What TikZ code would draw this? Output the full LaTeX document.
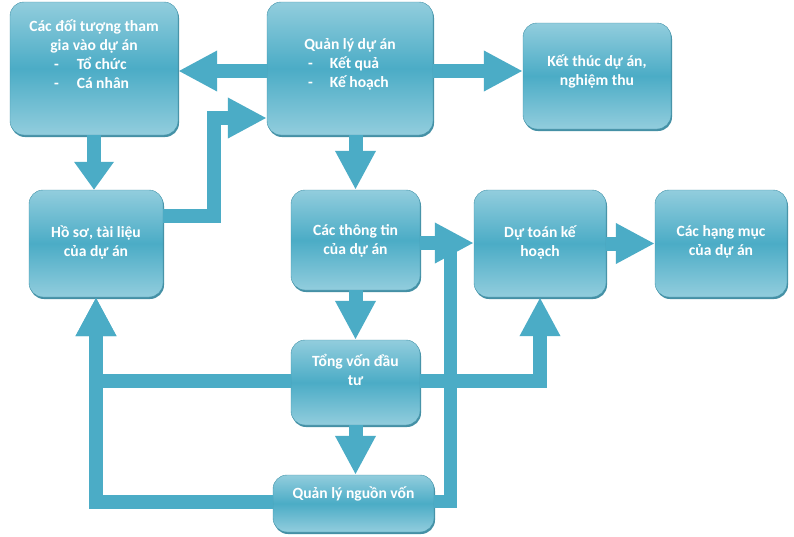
\documentclass[tikz,border=0pt]{standalone}
\usepackage{fontspec}
\setmainfont{Carlito}
\usetikzlibrary{arrows.meta, shadows}
\definecolor{aqua}{RGB}{75, 172, 198}
\definecolor{aqualight}{RGB}{146, 205, 221}
\definecolor{aquadark}{RGB}{49, 133, 156}

\tikzset{
  box/.style={rounded corners=14pt, top color=aqualight, bottom color=aqualight, middle color=aqua,
    draw=aqua!85!black, line width=0.4pt, text=white, align=center,
    font=\bfseries\fontsize{15.6}{19}\selectfont,
    drop shadow={shadow xshift=1pt, shadow yshift=-2pt, fill=aquadark, opacity=0.9}},
  lift/.style={text depth=#1},
  flow/.style={draw=aqua, line width=14pt, -{Triangle[width=38pt, length=39pt]}},
  pipe/.style={draw=aqua, line width=13pt},
}

\begin{document}
\begin{tikzpicture}[x=1pt, y=-1pt]
  \useasboundingbox[fill=white] (0,0) rectangle (794,536);

  % boxes
  \node[box, minimum width=168pt, minimum height=133pt, lift=28pt] (parties) at (94,68.5)
    {Các đối tượng tham\\gia vào dự án\\\makebox[80pt][l]{-\hspace{18pt}Tổ chức}\\\makebox[80pt][l]{-\hspace{18pt}Cá nhân}};
  \node[box, minimum width=166pt, minimum height=133pt, lift=12pt] (manage) at (350,68.5)
    {Quản lý dự án\\\makebox[84pt][l]{-\hspace{17pt}Kết quả}\\\makebox[84pt][l]{-\hspace{17pt}Kế hoạch}};
  \node[box, minimum width=148pt, minimum height=106pt, lift=11pt] (finish) at (597,76)
    {Kết thúc dự án,\\nghiệm thu};
  \node[box, minimum width=134pt, minimum height=107pt, lift=5pt] (docs) at (96,243.5)
    {Hồ sơ, tài liệu\\của dự án};
  \node[box, minimum width=129pt, minimum height=100pt, lift=1pt] (info) at (355.5,240)
    {Các thông tin\\của dự án};
  \node[box, minimum width=132pt, minimum height=107pt, lift=5pt] (estimate) at (540,243.5)
    {Dự toán kế\\hoạch};
  \node[box, minimum width=132pt, minimum height=107pt, lift=5pt] (items) at (721,243.5)
    {Các hạng mục\\của dự án};
  \node[box, minimum width=129pt, minimum height=85pt, lift=25pt] (capital) at (355.5,382.5)
    {Tổng vốn đầu\\tư};
  \node[box, minimum width=161pt, minimum height=57pt, lift=22pt] (funds) at (353.5,503.5)
    {Quản lý nguồn vốn};

  % connectors
  \draw[flow] (manage.west |- 0,71) -- (parties.east |- 0,71);
  \draw[flow] (manage.east |- 0,71) -- (finish.west |- 0,71);
  \draw[flow, -{Triangle[width=38pt, length=28pt]}] (parties.south) -- (parties.south |- docs.north);
  \draw[flow] (docs.east |- 0,216) -| (214,118) -- (manage.west |- 0,118);
  \draw[flow] (manage.south -| info.north) -- (info.north);
  \draw[pipe] (funds.east |- 0,501) -| (450,243);
  \draw[flow] (info.east |- 0,243) -- (estimate.west |- 0,243);
  \draw[flow] (estimate.east) -- (items.west);
  \draw[flow] (info.south) -- (capital.north);
  \draw[flow] (capital.south) -- (capital.south |- funds.north);
  \draw[flow] (capital.west |- 0,381) -| (docs.south);
  \draw[flow] (capital.east |- 0,381) -| (estimate.south);
  \draw[flow] (funds.west |- 0,502) -| (docs.south);
\end{tikzpicture}
\end{document}
